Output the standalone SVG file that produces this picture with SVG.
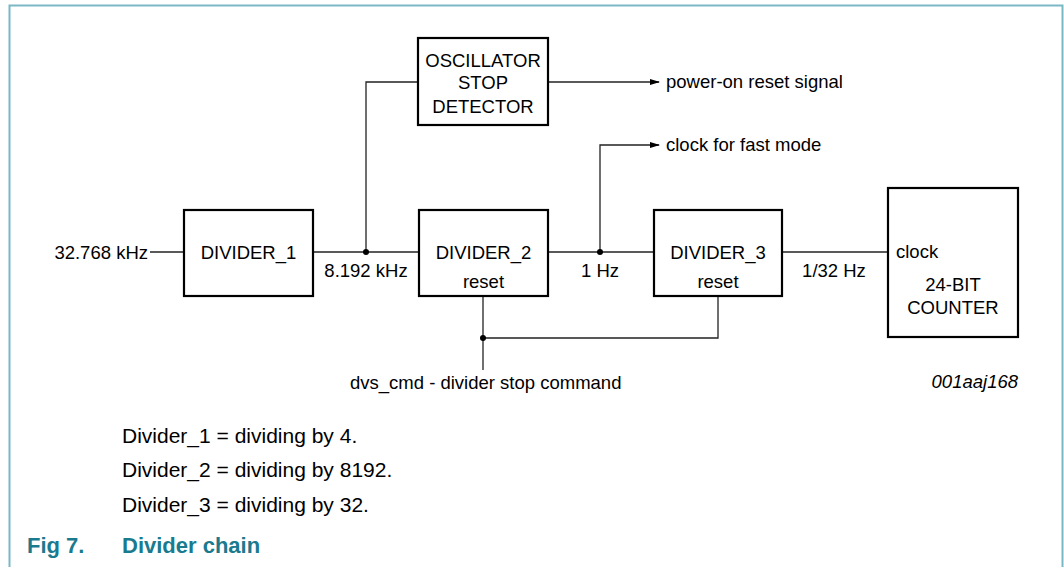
<svg xmlns="http://www.w3.org/2000/svg" width="1064" height="567" viewBox="0 0 1064 567">
<defs>
<marker id="arr" markerWidth="10" markerHeight="8" refX="9" refY="4" orient="auto" markerUnits="userSpaceOnUse">
<path d="M0,1 L10,4 L0,7 Z" fill="#000"/>
</marker>
<style>
.box{fill:#fff;stroke:#000;stroke-width:2.2}
.t{font-family:"Liberation Sans",Arial,sans-serif;font-size:18.5px;fill:#000}
.c{text-anchor:middle}
.w{fill:none;stroke:#222;stroke-width:1.3}
.d{fill:#000}
.n{font-family:"Liberation Sans",Arial,sans-serif;font-size:21px;fill:#000}
.cap{font-family:"Liberation Sans",Arial,sans-serif;font-size:22px;font-weight:bold;fill:#1a7a8e}
</style>
</defs>
<rect width="1064" height="567" fill="#fff"/>
<path d="M9.5,567 V5.5 H1062.5 V567" fill="none" stroke="#7ab8c5" stroke-width="2"/>

<g id="connectors">
<line class="w" x1="150" y1="252" x2="184" y2="252"/>
<line class="w" x1="313" y1="252" x2="419" y2="252"/>
<polyline class="w" points="366,252 366,82 418,82"/>
<line class="w" x1="548" y1="82" x2="659" y2="82" marker-end="url(#arr)"/>
<line class="w" x1="548" y1="252" x2="654" y2="252"/>
<polyline class="w" points="600,252 600,145 659,145" marker-end="url(#arr)"/>
<line class="w" x1="782" y1="252" x2="888" y2="252"/>
<polyline class="w" points="483,296 483,370"/>
<polyline class="w" points="718,296 718,338 483,338"/>
<circle class="d" cx="366" cy="252" r="3"/>
<circle class="d" cx="600" cy="252" r="3"/>
<circle class="d" cx="483" cy="338" r="3"/>
</g>

<g id="osc">
<rect class="box" x="418" y="38" width="130" height="87"/>
<text class="t c" x="483" y="67">OSCILLATOR</text>
<text class="t c" x="483" y="89">STOP</text>
<text class="t c" x="483" y="113">DETECTOR</text>
</g>
<g id="div1">
<rect class="box" x="184" y="210" width="129" height="86"/>
<text class="t c" x="248.5" y="259">DIVIDER_1</text>
</g>
<g id="div2">
<rect class="box" x="419" y="210" width="129" height="86"/>
<text class="t c" x="483.5" y="259">DIVIDER_2</text>
<text class="t c" x="483.5" y="288">reset</text>
</g>
<g id="div3">
<rect class="box" x="654" y="210" width="128" height="86"/>
<text class="t c" x="718" y="259">DIVIDER_3</text>
<text class="t c" x="718" y="288">reset</text>
</g>
<g id="counter">
<rect class="box" x="888" y="188" width="130" height="149"/>
<text class="t" x="896" y="258">clock</text>
<text class="t c" x="953" y="291">24-BIT</text>
<text class="t c" x="953" y="314">COUNTER</text>
</g>

<g id="labels">
<text class="t" x="148" y="259" text-anchor="end">32.768 kHz</text>
<text class="t c" x="366" y="277">8.192 kHz</text>
<text class="t c" x="600" y="277">1 Hz</text>
<text class="t c" x="834" y="277">1/32 Hz</text>
<text class="t" x="666" y="88">power-on reset signal</text>
<text class="t" x="666" y="151">clock for fast mode</text>
<text class="t" x="350" y="389">dvs_cmd - divider stop command</text>
<text class="t" x="1018" y="388" text-anchor="end" font-style="italic" font-size="14">001aaj168</text>
</g>

<text class="n" x="122" y="443">Divider_1 = dividing by 4.</text>
<text class="n" x="122" y="477">Divider_2 = dividing by 8192.</text>
<text class="n" x="122" y="512">Divider_3 = dividing by 32.</text>
<text class="cap" x="27" y="553">Fig 7.</text>
<text class="cap" x="122" y="553">Divider chain</text>
</svg>
